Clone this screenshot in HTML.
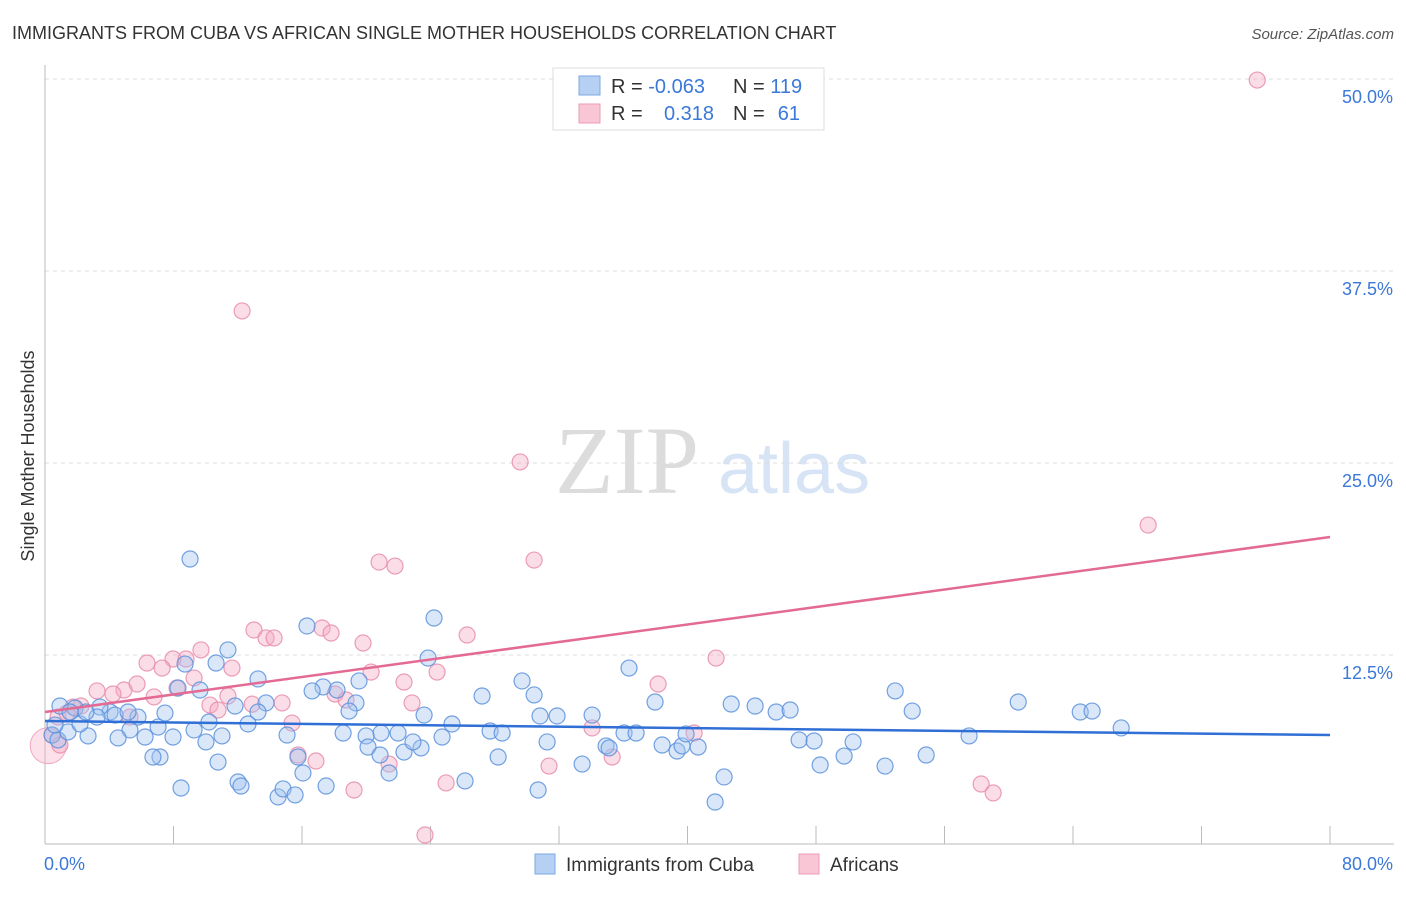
<!DOCTYPE html>
<html><head><meta charset="utf-8"><style>
body{margin:0;background:#fff;font-family:"Liberation Sans",sans-serif}
svg text{font-family:"Liberation Sans",sans-serif}
</style></head><body>
<svg id="c" width="1406" height="892">
<text x="12" y="39" font-size="18" fill="#333">IMMIGRANTS FROM CUBA VS AFRICAN SINGLE MOTHER HOUSEHOLDS CORRELATION CHART</text>
<text x="1394" y="39" font-size="15" fill="#555" font-style="italic" text-anchor="end">Source: ZipAtlas.com</text>
<g>
<text x="555" y="493" font-size="96" fill="#dcdcdc" font-family="Liberation Serif" style="font-family:'Liberation Serif',serif">ZIP</text>
<text x="718" y="493" font-size="72" fill="#d6e4f5">atlas</text>
</g>
<g id="grid"></g>
<g id="axes"></g>
<g id="pts"></g>
<g id="lines"></g>
<text transform="translate(34,456) rotate(-90)" font-size="18" fill="#333" text-anchor="middle">Single Mother Households</text>
<g>
<rect x="553" y="68" width="271" height="62" fill="#fff" stroke="#ddd"/>
<rect x="579" y="76" width="21" height="19" fill="#b5d0f3" stroke="#7aa8e6"/>
<rect x="579" y="104" width="21" height="19" fill="#f9c6d6" stroke="#ee9cb6"/>
<text x="611" y="93" font-size="20" fill="#333">R = <tspan fill="#3b78d8">-0.063</tspan></text>
<text x="733" y="93" font-size="20" fill="#333">N = <tspan fill="#3b78d8">119</tspan></text>
<text x="611" y="120" font-size="20" fill="#333">R = </text>
<text x="714" y="120" font-size="20" fill="#3b78d8" text-anchor="end">0.318</text>
<text x="733" y="120" font-size="20" fill="#333">N = </text>
<text x="800" y="120" font-size="20" fill="#3b78d8" text-anchor="end">61</text>
</g>
<g>
<rect x="535" y="854" width="20" height="20" fill="#b5d0f3" stroke="#7aa8e6"/>
<text x="566" y="871" font-size="19" fill="#333">Immigrants from Cuba</text>
<rect x="799" y="854" width="20" height="20" fill="#f9c6d6" stroke="#ee9cb6"/>
<text x="830" y="871" font-size="19" fill="#333">Africans</text>
</g>
</svg>
<script>
const yTicks=[12.5,25,37.5,50];
const yTickLabels=["12.5%","25.0%","37.5%","50.0%"];
const xEnds=["0.0%","80.0%"];
const cubaX=[9.03,24.22,16.31,36.36,23.85,11.39,13.26,8.72,10.65,29.70,27.21,30.45,52.93,60.59,64.45,65.19,67.00,53.99,42.72,44.21,45.52,46.39,37.98,34.06,30.82,31.88,23.60,25.34,27.71,28.46,21.98,20.92,19.99,18.56,19.55,17.31,18.18,19.36,18.93,16.63,13.76,13.26,12.64,11.83,10.21,9.28,7.97,6.23,5.29,4.05,3.42,3.24,1.87,0.93,0.44,0.81,1.43,2.68,0.62,2.18,4.55,5.79,7.04,7.47,9.65,8.28,11.02,10.02,7.16,6.72,8.47,10.77,12.02,12.20,14.51,14.82,15.57,16.06,15.75,17.50,21.42,22.35,23.41,22.91,24.72,26.15,28.21,30.70,31.26,33.44,34.93,35.12,36.05,36.80,38.42,39.35,39.66,39.91,40.66,42.28,41.72,46.95,47.88,48.26,49.75,50.31,52.30,54.86,57.53,20.11,15.07,20.86,4.36,5.17,1.56,2.55];
const cubaY=[18.75,14.91,14.39,11.65,12.30,12.83,10.94,11.91,11.98,10.81,9.83,9.90,10.16,9.44,8.79,8.85,7.75,8.85,9.31,9.18,8.79,8.92,9.44,8.59,8.53,8.53,8.59,8.01,7.55,7.42,7.42,7.42,7.23,7.42,10.81,10.42,10.22,9.38,8.85,10.16,9.38,8.79,8.01,9.18,8.14,7.62,7.16,7.16,7.62,8.79,9.11,8.46,9.05,9.18,7.29,6.97,7.49,7.23,7.94,8.01,7.10,8.46,7.81,8.72,10.22,10.35,7.23,6.84,5.86,5.86,3.84,5.53,4.23,3.97,3.26,3.78,3.39,4.82,5.86,3.97,4.82,6.18,6.45,6.84,7.16,4.30,5.86,3.71,6.84,5.40,6.58,6.45,7.42,7.42,6.64,6.25,6.58,7.36,6.51,4.56,2.93,6.97,6.90,5.34,5.92,6.84,5.27,5.99,7.23,6.51,7.29,5.99,8.59,8.79,8.79,8.79];
const afrX=[75.47,12.27,29.58,68.68,30.45,20.80,21.79,13.01,17.25,17.81,13.76,14.26,19.80,26.28,9.71,7.97,8.78,6.35,7.29,11.64,41.78,20.30,24.41,22.35,38.17,5.73,8.22,4.92,3.24,4.23,6.79,11.39,14.76,10.27,10.77,9.28,18.06,18.74,22.85,2.24,1.74,0.81,1.37,5.29,15.38,34.06,40.41,15.75,16.87,21.42,31.38,35.31,24.97,19.24,58.28,59.03,23.66,0.44,0.93,12.9];
const afrY=[49.93,34.90,25.07,20.96,18.68,18.55,18.29,14.13,14.26,13.93,13.61,13.61,13.28,13.80,12.83,12.24,12.24,11.98,11.65,11.65,12.30,11.39,11.39,10.74,10.61,10.61,10.35,10.22,10.16,9.96,9.77,9.83,9.38,9.24,8.92,11.00,9.96,9.57,9.38,9.18,9.11,8.46,8.72,8.46,8.07,7.75,7.42,5.99,5.60,5.40,5.27,5.86,4.17,3.71,4.10,3.52,0.78,7.29,6.64,9.3];
const cubaTrend=[8.20,7.29];
const afrTrend=[8.79,20.18];
const NS="http://www.w3.org/2000/svg";
const X0=45,X1=1330,Y0=847,PXY=192/12.5;
const sx=v=>X0+(v/80)*(X1-X0);
const sy=v=>Y0-v*PXY;
function mk(tag,attrs,parent){const e=document.createElementNS(NS,tag);for(const k in attrs)e.setAttribute(k,attrs[k]);parent.appendChild(e);return e;}
const grid=document.getElementById('grid'),axes=document.getElementById('axes'),pts=document.getElementById('pts'),lines=document.getElementById('lines');
yTicks.forEach((t,i)=>{
 const l=mk('line',{x1:X0,x2:1394,y1:sy(t),y2:sy(t),stroke:'#ddd','stroke-dasharray':'4,4'},grid);
 
 
 const tx=mk('text',{x:1393,y:sy(t)+24,'font-size':18,fill:'#3b78d8','text-anchor':'end'},grid);
 tx.textContent=yTickLabels[i];
 
 
});
const ax=mk('line',{x1:X0,x2:X0,y1:65,y2:844,stroke:'#bbb'},axes);


const bx=mk('line',{x1:X0,x2:1394,y1:844,y2:844,stroke:'#bbb'},axes);


for(let i=1;i<=10;i++){
 const t=mk('line',{x1:sx(i*8),x2:sx(i*8),y1:826,y2:844,stroke:'#bbb'},axes);
 
 
}
const xl=mk('text',{x:44,y:870,'font-size':18,fill:'#3b78d8'},axes);xl.textContent=xEnds[0];


const xr=mk('text',{x:1393,y:870,'font-size':18,fill:'#3b78d8','text-anchor':'end'},axes);xr.textContent=xEnds[1];


const big=mk('circle',{cx:sx(0.2),cy:sy(6.6),r:18,fill:'rgba(245,170,195,0.35)',stroke:'rgba(232,140,172,0.7)'},pts);


afrX.forEach((v,i)=>{
 const c=mk('circle',{cx:sx(v),cy:sy(afrY[i]),r:8,fill:'rgba(245,170,195,0.4)',stroke:'rgba(232,140,172,0.85)','stroke-width':1.2},pts);
 
 
});
cubaX.forEach((v,i)=>{
 const c=mk('circle',{cx:sx(v),cy:sy(cubaY[i]),r:8,fill:'rgba(160,196,240,0.4)',stroke:'rgba(90,145,220,0.85)','stroke-width':1.2},pts);
 
 
});
const l1=mk('line',{x1:sx(0),x2:sx(80),y1:sy(cubaTrend[0]),y2:sy(cubaTrend[1]),stroke:'#2f6fd6','stroke-width':2.5},lines);


const l2=mk('line',{x1:sx(0),x2:sx(80),y1:sy(afrTrend[0]),y2:sy(afrTrend[1]),stroke:'#e36a94','stroke-width':2.5},lines);


</script>
</body></html>
